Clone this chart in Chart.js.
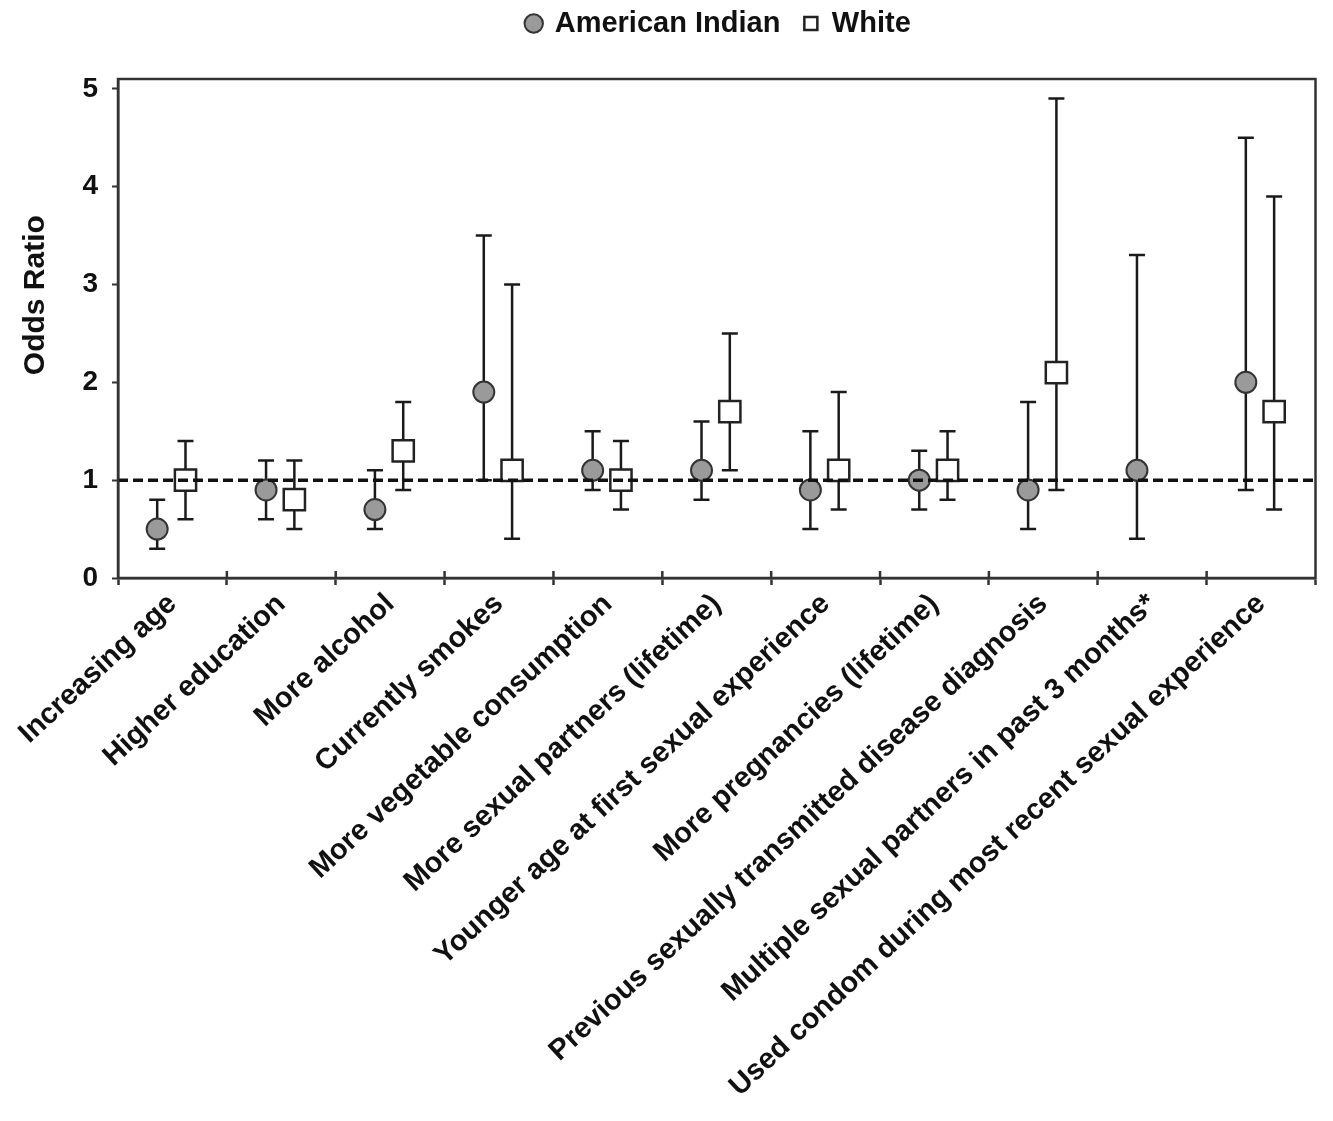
<!DOCTYPE html>
<html lang="en">
<head>
    <meta charset="UTF-8">
    <title>Odds Ratio chart</title>
    <script src="https://cdn.jsdelivr.net/npm/chart.js"></script>
    <style>
        body {
            margin: 0;
            padding: 0;
            background: #fff;
        }

        .chart-container {
            width: 1333px;
            height: 1121px;
        }
    </style>
</head>
<body>
    <div class="chart-container">
        <canvas id="or-chart"></canvas>
    </div>

    <script type="text/javascript">
        var categories = [
            "Increasing age",
            "Higher education",
            "More alcohol",
            "Currently smokes",
            "More vegetable consumption",
            "More sexual partners (lifetime)",
            "Younger age at first sexual experience",
            "More pregnancies (lifetime)",
            "Previous sexually transmitted disease diagnosis",
            "Multiple sexual partners in past 3 months*",
            "Used condom during most recent sexual experience"
        ];

        // American Indian: odds ratio and 95% CI
        var aiOR = [0.5, 0.9, 0.7, 1.9, 1.1, 1.1, 0.9, 1.0, 0.9, 1.1, 2.0];
        var aiLow = [0.3, 0.6, 0.5, 1.0, 0.9, 0.8, 0.5, 0.7, 0.5, 0.4, 0.9];
        var aiHigh = [0.8, 1.2, 1.1, 3.5, 1.5, 1.6, 1.5, 1.3, 1.8, 3.3, 4.5];

        // White: odds ratio and 95% CI (no estimate for one item)
        var whOR = [1.0, 0.8, 1.3, 1.1, 1.0, 1.7, 1.1, 1.1, 2.1, null, 1.7];
        var whLow = [0.6, 0.5, 0.9, 0.4, 0.7, 1.1, 0.7, 0.8, 0.9, null, 0.7];
        var whHigh = [1.4, 1.2, 1.8, 3.0, 1.4, 2.5, 1.9, 1.5, 4.9, null, 3.9];

        var yTicks = [0, 1, 2, 3, 4, 5];
        var refLine = 1;

        var fontFamily = "'Liberation Sans', Arial, sans-serif";
        var ink = '#1a1a1a';

        function makePoints(or, low, high, shift) {
            var pts = [];
            for (var i = 0; i < or.length; i++) {
                if (or[i] === null) continue;
                pts.push({ x: i + shift, y: or[i], low: low[i], high: high[i] });
            }
            return pts;
        }

        // error bars go under the markers, dashed line and frame on top
        var errorBars = {
            id: 'errorBars',
            beforeDatasetsDraw: function (chart) {
                var ctx = chart.ctx;
                var xs = chart.scales.xl;
                var ys = chart.scales.y;
                ctx.save();
                ctx.strokeStyle = ink;
                ctx.lineWidth = 2.5;
                chart.data.datasets.forEach(function (ds) {
                    ds.data.forEach(function (p) {
                        var x = xs.getPixelForValue(p.x);
                        var yl = ys.getPixelForValue(p.low);
                        var yh = ys.getPixelForValue(p.high);
                        ctx.beginPath();
                        ctx.moveTo(x, yl);
                        ctx.lineTo(x, yh);
                        ctx.moveTo(x - 8, yl);
                        ctx.lineTo(x + 8, yl);
                        ctx.moveTo(x - 8, yh);
                        ctx.lineTo(x + 8, yh);
                        ctx.stroke();
                    });
                });
                ctx.restore();
            },
            afterDatasetsDraw: function (chart) {
                var ctx = chart.ctx;
                var area = chart.chartArea;
                var y = chart.scales.y.getPixelForValue(refLine);
                ctx.save();
                ctx.strokeStyle = '#111';
                ctx.lineWidth = 3.5;
                ctx.setLineDash([10, 5]);
                ctx.beginPath();
                ctx.moveTo(area.left, y);
                ctx.lineTo(area.right, y);
                ctx.stroke();
                ctx.setLineDash([]);
                ctx.lineWidth = 2.5;
                ctx.strokeStyle = '#333';
                ctx.strokeRect(area.left, area.top, area.right - area.left, area.bottom - area.top);
                // ticks on the x axis also poke up a little into the plot
                var xs = chart.scales.x;
                var half = (xs.getPixelForValue(1) - xs.getPixelForValue(0)) / 2;
                ctx.beginPath();
                for (var i = 1; i < categories.length; i++) {
                    var x = xs.getPixelForValue(i) - half;
                    ctx.moveTo(x, area.bottom);
                    ctx.lineTo(x, area.bottom - 7);
                }
                ctx.stroke();
                ctx.restore();
            }
        };

        var legendSpace = {
            id: 'legendSpace',
            beforeInit: function (chart) {
                var fit = chart.legend.fit;
                chart.legend.fit = function () {
                    fit.bind(chart.legend)();
                    this.height += 16;
                };
            },
            afterLayout: function (chart) {
                // centre the legend over the plot area and pull it up a bit
                chart.legend.left = chart.chartArea.left;
                chart.legend.top -= 15;
            }
        };

        var ctx = document.getElementById('or-chart').getContext('2d');
        var chart = new Chart(ctx, {
            type: 'scatter',
            data: {
                labels: categories,
                datasets: [{
                    label: 'American Indian',
                    data: makePoints(aiOR, aiLow, aiHigh, -0.14),
                    xAxisID: 'xl',
                    pointStyle: 'circle',
                    pointRadius: 10.5,
                    backgroundColor: '#9a9a9a',
                    borderColor: '#333',
                    borderWidth: 2
                }, {
                    label: 'White',
                    data: makePoints(whOR, whLow, whHigh, 0.12),
                    xAxisID: 'xl',
                    pointStyle: 'rect',
                    pointRadius: 15,
                    backgroundColor: '#fff',
                    borderColor: '#222',
                    borderWidth: 2.5
                }]
            },
            options: {
                responsive: true,
                maintainAspectRatio: false,
                animation: false,
                layout: {
                    padding: { top: 0, right: 13, bottom: 4, left: 0 }
                },
                plugins: {
                    tooltip: { enabled: false },
                    legend: {
                        position: 'top',
                        labels: {
                            usePointStyle: true,
                            boxWidth: 13,
                            boxHeight: 13,
                            padding: 24,
                            color: '#111',
                            font: { family: fontFamily, size: 29, weight: 'bold' }
                        }
                    }
                },
                scales: {
                    xl: {
                        type: 'linear',
                        display: false,
                        min: -0.5,
                        max: categories.length - 0.5
                    },
                    x: {
                        type: 'category',
                        offset: true,
                        border: { display: true, color: '#333', width: 2.5 },
                        grid: {
                            offset: true,
                            drawOnChartArea: false,
                            tickLength: 7,
                            tickWidth: 2.5,
                            color: '#333'
                        },
                        ticks: {
                            maxRotation: 43,
                            minRotation: 43,
                            autoSkip: false,
                            padding: 2,
                            color: '#111',
                            font: { family: fontFamily, size: 29, weight: 'bold' }
                        },
                        afterFit: function (scale) {
                            scale.height = 539;
                        }
                    },
                    y: {
                        min: 0,
                        max: 5.1,
                        border: { display: true, color: '#333', width: 2.5 },
                        grid: {
                            drawOnChartArea: false,
                            tickLength: 6,
                            tickWidth: 2,
                            color: '#333'
                        },
                        afterBuildTicks: function (axis) {
                            axis.ticks = yTicks.map(function (v) { return { value: v }; });
                        },
                        ticks: {
                            padding: 14,
                            color: '#111',
                            font: { family: fontFamily, size: 28, weight: 'bold' }
                        },
                        title: {
                            display: true,
                            text: '        Odds Ratio',
                            color: '#111',
                            padding: { top: 18, bottom: 0 },
                            font: { family: fontFamily, size: 30, weight: 'bold' }
                        },
                        afterFit: function (scale) {
                            scale.width = 118;
                        }
                    }
                }
            },
            plugins: [errorBars, legendSpace]
        });
    </script>
</body>
</html>
